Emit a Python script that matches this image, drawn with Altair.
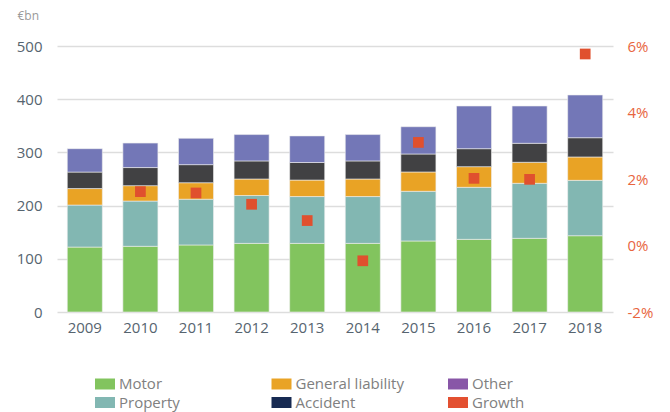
import altair as alt
import pandas as pd

years = ["2009", "2010", "2011", "2012", "2013", "2014", "2015", "2016", "2017", "2018"]
segments = ["Motor", "Property", "General liability", "Accident", "Other"]
motor = [122, 123.5, 126, 129, 129, 129, 133.5, 136.6, 138.5, 143.4]
property_ = [79, 85, 86, 90, 88, 88, 93.4, 97.8, 103.4, 104.1]
general_liability = [31, 29, 31, 31, 31, 33, 36.3, 38.8, 39.5, 43.9]
accident = [31, 34, 34, 34, 33, 34, 33.8, 33.8, 35.7, 36.2]
other = [44, 46, 49.5, 49.5, 50, 49.5, 51.3, 80.2, 70.1, 80.3]
growth_years = ["2010", "2011", "2012", "2013", "2014", "2015", "2016", "2017", "2018"]
growth = [1.62, 1.58, 1.24, 0.75, -0.46, 3.10, 2.02, 1.99, 5.76]

bar_colors = ["#82c45e", "#82b7b2", "#e9a325", "#414143", "#7377b7"]
legend_items = ["Motor", "Property", "General liability", "Accident", "Other", "Growth"]
legend_colors = ["#82c45e", "#82b7b2", "#e9a325", "#172a52", "#8856a7", "#e35031"]

series = [motor, property_, general_liability, accident, other]
rows = []
for si, (seg, vals) in enumerate(zip(segments, series)):
    for y, v in zip(years, vals):
        rows.append({"year": y, "segment": seg, "value": v, "ord": si})
df_bars = pd.DataFrame(rows)
df_growth = pd.DataFrame({"year": growth_years, "growth": growth})
df_legend = pd.DataFrame({"item": legend_items})

FONT = "Open Sans"
AX_COLOR = "#56646f"

x_enc = alt.X(
    "year:N", sort=years,
    scale=alt.Scale(paddingInner=0.37, paddingOuter=0.185),
    axis=alt.Axis(title=None, labelAngle=0, domain=False, ticks=False, grid=False,
                  labelPadding=8, labelFontSize=15, labelColor=AX_COLOR, labelFont=FONT),
)

bars = alt.Chart(df_bars).mark_bar(stroke="#eeeeee", strokeWidth=0.6).encode(
    x=x_enc,
    y=alt.Y("value:Q", stack="zero", scale=alt.Scale(domain=[0, 500], nice=False),
            axis=alt.Axis(values=[0, 100, 200, 300, 400, 500], title="€bn", titleAngle=0,
                          titleAlign="left", titleBaseline="middle", titleX=-40, titleY=-31,
                          titleFontSize=12, titleColor="#999999", titleFontWeight="normal",
                          titleFont=FONT, domain=False, ticks=False, labelPadding=15,
                          labelFontSize=15, labelColor=AX_COLOR, labelFont=FONT,
                          gridColor="#dddddd", gridWidth=1.5)),
    fill=alt.Fill("segment:N", scale=alt.Scale(domain=segments, range=bar_colors), legend=None),
    order=alt.Order("ord:Q"),
)

growth_layer = alt.Chart(df_growth).mark_square(size=115, color="#e0502e", opacity=1).encode(
    x=alt.X("year:N", sort=years),
    y=alt.Y("growth:Q", scale=alt.Scale(domain=[-2, 6], nice=False),
            axis=alt.Axis(orient="right", values=[-2, 0, 2, 4, 6], labelExpr="datum.value + '%'",
                          grid=False, domain=False, ticks=False, title=None, labelPadding=14,
                          labelFontSize=15, labelColor="#e8653f", labelFont=FONT)),
)

legend_layer = alt.Chart(df_legend).mark_square(opacity=0, size=1).encode(
    color=alt.Color("item:N", scale=alt.Scale(domain=legend_items, range=legend_colors),
                    sort=legend_items,
                    legend=alt.Legend(title=None, orient="none", legendX=38, legendY=328,
                                      columns=3, columnPadding=43.5, rowPadding=0.5,
                                      gridAlign="all", padding=0,
                                      symbolType="M-1,-0.55H1V0.55H-1Z", symbolSize=400,
                                      symbolOpacity=1, symbolStrokeWidth=0,
                                      labelFontSize=15, labelColor="#808080", labelFont=FONT,
                                      labelOffset=4)),
)

chart = alt.layer(bars, growth_layer, legend_layer).resolve_scale(y="independent").properties(
    width=556, height=266,
    padding={"left": 49, "top": 38, "right": 49, "bottom": 100},
    autosize=alt.AutoSizeParams(type="none"),
).configure_view(stroke=None)

chart.save("out.html", embed_options={"renderer": "svg", "actions": False})
